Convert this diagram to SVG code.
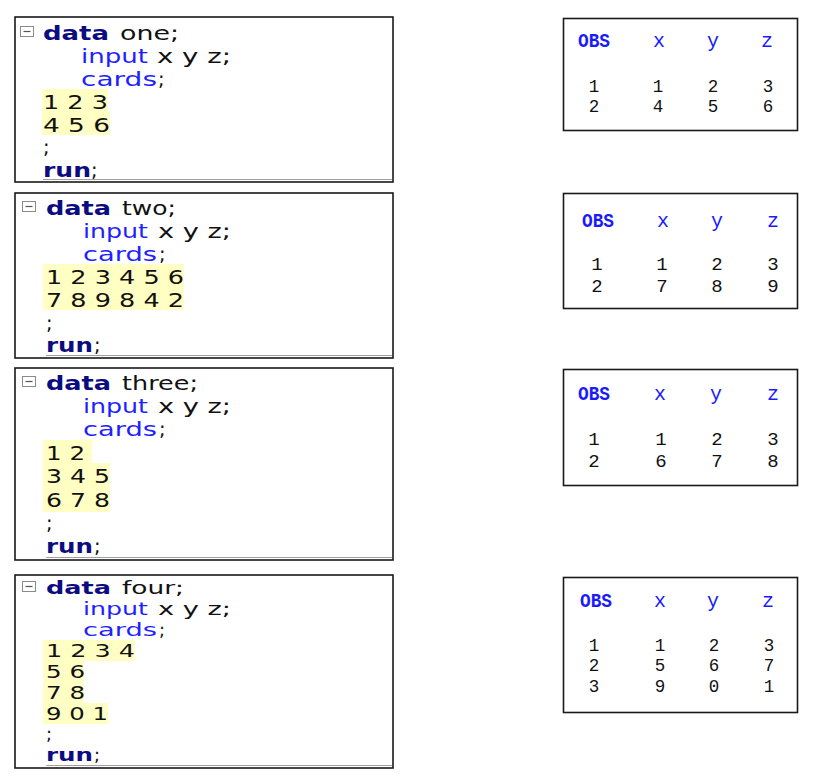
<svg xmlns="http://www.w3.org/2000/svg" width="819" height="781" viewBox="0 0 819 781">
<style>
.box{fill:#fff;stroke:#1a1a1a;stroke-width:1.6}
.sep{stroke:#a0a0a0;stroke-width:1}
.hl{fill:#ffffc4}
.ic{fill:#fff;stroke:#8a8a8a;stroke-width:1}
.icm{stroke:#555;stroke-width:1.2}
.c{font-family:"DejaVu Sans","Liberation Sans",sans-serif;font-size:19.5px;fill:#111}
.s{font-size:17.8px}
.kw{font-weight:bold;fill:#0c0c80}
.bl{fill:#1f1fff}
.t{font-family:"Liberation Mono","DejaVu Sans Mono",monospace;font-size:17.5px;fill:#111;text-anchor:middle}
.m{font-size:19px}
.h{font-size:20px;fill:#1a1aff}
.o{text-anchor:start;font-weight:bold}
</style>
<rect width="819" height="781" fill="#fff"/>

<g id="code-one">
<rect class="box" x="15" y="17" width="378" height="165"/>
<line class="sep" x1="43" y1="179.5" x2="392" y2="179.5"/>
<rect class="ic" x="20.5" y="26.5" width="13" height="10"/>
<line class="icm" x1="23.5" y1="31.5" x2="30.5" y2="31.5"/>
<rect class="hl" x="42" y="89" width="66" height="23"/>
<rect class="hl" x="42" y="112" width="68" height="23"/>
<text class="c kw" x="43" y="40" textLength="66" lengthAdjust="spacingAndGlyphs">data</text>
<text class="c" x="120" y="40" textLength="59" lengthAdjust="spacingAndGlyphs">one;</text>
<text class="c bl" x="81" y="63" textLength="67" lengthAdjust="spacingAndGlyphs">input</text>
<text class="c" x="157" y="63" textLength="74" lengthAdjust="spacingAndGlyphs">x y z;</text>
<text class="c bl" x="81" y="86" textLength="76" lengthAdjust="spacingAndGlyphs">cards</text>
<text class="c" x="158" y="86">;</text>
<text class="c" x="43" y="109" textLength="65" lengthAdjust="spacingAndGlyphs">1 2 3</text>
<text class="c" x="43" y="132" textLength="67" lengthAdjust="spacingAndGlyphs">4 5 6</text>
<text class="c" x="43" y="154">;</text>
<text class="c kw" x="43" y="177" textLength="48" lengthAdjust="spacingAndGlyphs">run</text>
<text class="c" x="91" y="177">;</text>
</g>

<g id="code-two">
<rect class="box" x="15" y="193" width="378" height="165"/>
<line class="sep" x1="46" y1="355.5" x2="392" y2="355.5"/>
<rect class="ic" x="22.5" y="201.5" width="13" height="10"/>
<line class="icm" x1="25.5" y1="206.5" x2="32.5" y2="206.5"/>
<rect class="hl" x="43" y="264" width="141" height="46"/>
<text class="c kw" x="46" y="215" textLength="65" lengthAdjust="spacingAndGlyphs">data</text>
<text class="c" x="122" y="215" textLength="54" lengthAdjust="spacingAndGlyphs">two;</text>
<text class="c bl" x="83" y="238" textLength="65" lengthAdjust="spacingAndGlyphs">input</text>
<text class="c" x="158" y="238" textLength="73" lengthAdjust="spacingAndGlyphs">x y z;</text>
<text class="c bl" x="83" y="261" textLength="74" lengthAdjust="spacingAndGlyphs">cards</text>
<text class="c" x="159" y="261">;</text>
<text class="c" x="46" y="284" textLength="138" lengthAdjust="spacingAndGlyphs">1 2 3 4 5 6</text>
<text class="c" x="46" y="307" textLength="138" lengthAdjust="spacingAndGlyphs">7 8 9 8 4 2</text>
<text class="c" x="46" y="330">;</text>
<text class="c kw" x="46" y="352" textLength="47" lengthAdjust="spacingAndGlyphs">run</text>
<text class="c" x="94" y="352">;</text>
</g>

<g id="code-three">
<rect class="box" x="15" y="368" width="378" height="192"/>
<line class="sep" x1="46" y1="557.5" x2="392" y2="557.5"/>
<rect class="ic" x="22.5" y="376.5" width="13" height="10"/>
<line class="icm" x1="25.5" y1="381.5" x2="32.5" y2="381.5"/>
<rect class="hl" x="43" y="440" width="49" height="23"/>
<rect class="hl" x="43" y="463" width="67" height="49"/>
<text class="c kw" x="46" y="390" textLength="65" lengthAdjust="spacingAndGlyphs">data</text>
<text class="c" x="122" y="390" textLength="76" lengthAdjust="spacingAndGlyphs">three;</text>
<text class="c bl" x="83" y="413" textLength="65" lengthAdjust="spacingAndGlyphs">input</text>
<text class="c" x="158" y="413" textLength="73" lengthAdjust="spacingAndGlyphs">x y z;</text>
<text class="c bl" x="83" y="436" textLength="74" lengthAdjust="spacingAndGlyphs">cards</text>
<text class="c" x="159" y="436">;</text>
<text class="c" x="46" y="460" textLength="39" lengthAdjust="spacingAndGlyphs">1 2</text>
<text class="c" x="46" y="483" textLength="64" lengthAdjust="spacingAndGlyphs">3 4 5</text>
<text class="c" x="46" y="507" textLength="64" lengthAdjust="spacingAndGlyphs">6 7 8</text>
<text class="c" x="46" y="530">;</text>
<text class="c kw" x="46" y="553" textLength="47" lengthAdjust="spacingAndGlyphs">run</text>
<text class="c" x="94" y="553">;</text>
</g>

<g id="code-four">
<rect class="box" x="15" y="575" width="378" height="193"/>
<line class="sep" x1="46" y1="765.5" x2="392" y2="765.5"/>
<rect class="ic" x="22.5" y="581.5" width="13" height="10"/>
<line class="icm" x1="25.5" y1="586.5" x2="32.5" y2="586.5"/>
<rect class="hl" x="43" y="640" width="92" height="21"/>
<rect class="hl" x="43" y="661" width="41" height="42"/>
<rect class="hl" x="43" y="703" width="65" height="21"/>
<text class="c s kw" x="46" y="594" textLength="65" lengthAdjust="spacingAndGlyphs">data</text>
<text class="c s" x="122" y="594" textLength="62" lengthAdjust="spacingAndGlyphs">four;</text>
<text class="c s bl" x="83" y="615" textLength="65" lengthAdjust="spacingAndGlyphs">input</text>
<text class="c s" x="158" y="615" textLength="73" lengthAdjust="spacingAndGlyphs">x y z;</text>
<text class="c s bl" x="83" y="636" textLength="74" lengthAdjust="spacingAndGlyphs">cards</text>
<text class="c s" x="159" y="636">;</text>
<text class="c s" x="46" y="657" textLength="89" lengthAdjust="spacingAndGlyphs">1 2 3 4</text>
<text class="c s" x="46" y="678" textLength="39" lengthAdjust="spacingAndGlyphs">5 6</text>
<text class="c s" x="46" y="699" textLength="39" lengthAdjust="spacingAndGlyphs">7 8</text>
<text class="c s" x="46" y="720" textLength="62" lengthAdjust="spacingAndGlyphs">9 0 1</text>
<text class="c s" x="46" y="740">;</text>
<text class="c s kw" x="46" y="761" textLength="47" lengthAdjust="spacingAndGlyphs">run</text>
<text class="c s" x="94" y="761">;</text>
</g>

<g id="out-one">
<rect class="box" x="563.5" y="18.5" width="234" height="112"/>
<text class="t h o" x="578" y="47" textLength="32" lengthAdjust="spacingAndGlyphs">OBS</text>
<text class="t h" x="659" y="47">x</text>
<text class="t h" x="713" y="47">y</text>
<text class="t h" x="767" y="47">z</text>
<text class="t" x="594" y="92">1</text><text class="t" x="658" y="92">1</text><text class="t" x="713" y="92">2</text><text class="t" x="768" y="92">3</text>
<text class="t" x="594" y="112">2</text><text class="t" x="658" y="112">4</text><text class="t" x="713" y="112">5</text><text class="t" x="768" y="112">6</text>
</g>

<g id="out-two">
<rect class="box" x="563.5" y="193.5" width="234" height="115"/>
<text class="t h o" x="582" y="227" textLength="32" lengthAdjust="spacingAndGlyphs">OBS</text>
<text class="t h" x="663" y="227">x</text>
<text class="t h" x="717" y="227">y</text>
<text class="t h" x="773" y="227">z</text>
<text class="t m" x="597" y="270">1</text><text class="t m" x="662" y="270">1</text><text class="t m" x="717" y="270">2</text><text class="t m" x="773" y="270">3</text>
<text class="t m" x="597" y="292">2</text><text class="t m" x="662" y="292">7</text><text class="t m" x="717" y="292">8</text><text class="t m" x="773" y="292">9</text>
</g>

<g id="out-three">
<rect class="box" x="563.5" y="369.5" width="234" height="116"/>
<text class="t h o" x="578" y="400" textLength="32" lengthAdjust="spacingAndGlyphs">OBS</text>
<text class="t h" x="660" y="400">x</text>
<text class="t h" x="716" y="400">y</text>
<text class="t h" x="773" y="400">z</text>
<text class="t m" x="594" y="445">1</text><text class="t m" x="661" y="445">1</text><text class="t m" x="717" y="445">2</text><text class="t m" x="773" y="445">3</text>
<text class="t m" x="594" y="467">2</text><text class="t m" x="661" y="467">6</text><text class="t m" x="717" y="467">7</text><text class="t m" x="773" y="467">8</text>
</g>

<g id="out-four">
<rect class="box" x="563.5" y="577.5" width="234" height="135"/>
<text class="t h o" x="580" y="607" textLength="32" lengthAdjust="spacingAndGlyphs">OBS</text>
<text class="t h" x="660" y="607">x</text>
<text class="t h" x="713" y="607">y</text>
<text class="t h" x="768" y="607">z</text>
<text class="t" x="594" y="651">1</text><text class="t" x="660" y="651">1</text><text class="t" x="714" y="651">2</text><text class="t" x="769" y="651">3</text>
<text class="t" x="594" y="671">2</text><text class="t" x="660" y="671">5</text><text class="t" x="714" y="671">6</text><text class="t" x="769" y="671">7</text>
<text class="t" x="594" y="692">3</text><text class="t" x="660" y="692">9</text><text class="t" x="714" y="692">0</text><text class="t" x="769" y="692">1</text>
</g>
</svg>
